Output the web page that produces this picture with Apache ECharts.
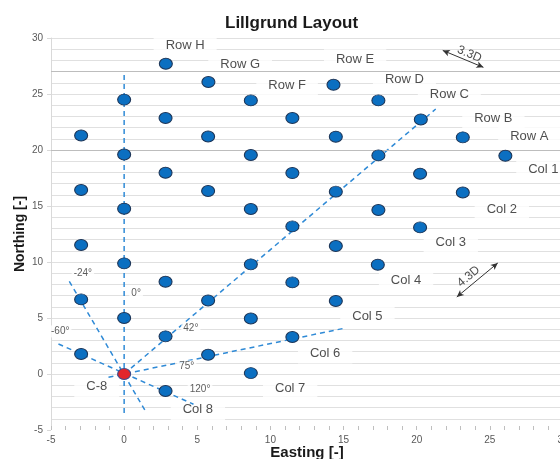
<!DOCTYPE html>
<html>
<head>
<meta charset="utf-8">
<script src="https://cdn.jsdelivr.net/npm/echarts@6/dist/echarts.min.js"></script>
<style>
html,body{margin:0;padding:0;background:#fff;}
#chart{width:560px;height:459px;}
</style>
</head>
<body>
<div id="chart"></div>
<script>
// ---- data ----
const xTicks = [-5, 30, 5];   // min, max, step
const yTicks = [-5, 30, 5];

const turbines = [
  [2.85, 27.7], [5.76, 26.07], [0, 24.5], [8.66, 24.43], [14.31, 25.83], [17.38, 24.43],
  [2.83, 22.86], [11.5, 22.86], [20.28, 22.73], [-2.94, 21.3], [5.74, 21.2], [14.47, 21.19],
  [23.15, 21.13], [0, 19.6], [8.66, 19.55], [17.38, 19.52], [26.06, 19.49], [2.83, 17.97],
  [11.5, 17.94], [20.23, 17.88], [-2.94, 16.43], [5.74, 16.34], [14.47, 16.28], [23.15, 16.21],
  [0, 14.76], [8.66, 14.73], [17.38, 14.64], [11.5, 13.18], [20.23, 13.09], [-2.94, 11.52],
  [14.47, 11.43], [0, 9.88], [8.66, 9.79], [17.34, 9.76], [2.83, 8.24], [11.5, 8.18],
  [-2.94, 6.66], [5.74, 6.57], [14.47, 6.52], [0, 5.0], [8.66, 4.96], [2.83, 3.36],
  [11.5, 3.3], [-2.94, 1.79], [5.74, 1.72], [8.66, 0.08], [2.83, -1.52]
];
const referenceTurbine = [[0, 0]];

const rowColNames = ['Row H','Row G','Row F','Row E','Row D','Row C','Row B','Row A',
  'Col 1','Col 2','Col 3','Col 4','Col 5','Col 6','Col 7','C-8','Col 8'];
const rowColPos = [
  [4.17, 29.31], [7.93, 27.68], [11.14, 25.74], [15.79, 28.06], [19.16, 26.3], [22.23, 24.96],
  [25.24, 22.86], [27.7, 21.19], [28.66, 18.24], [25.82, 14.73], [22.33, 11.79], [19.27, 8.33],
  [16.63, 5.14], [13.74, 1.88], [11.35, -1.31], [-1.87, -1.11], [5.04, -3.19]
];

const angleNames = ['-24°', '0°', '-60°', '42°', '75°', '120°'];
const anglePos = [[-2.82, 8.96], [0.82, 7.23], [-4.37, 3.8], [4.56, 4.07], [4.28, 0.68], [5.19, -1.4]];

const rays = [
  [[0, -3.48], [0, 26.9]],
  [[-3.75, 8.27], [1.5, -3.4]],
  [[-4.49, 2.68], [4.74, -2.7]],
  [[0, 0], [21.3, 23.66]],
  [[-1.07, -0.29], [14.99, 4.07]]
];

const spacingNames = ['3.3D', '4.3D'];
const spacingArrows = [
  [[21.78, 28.89], [24.56, 27.38]],
  [[22.74, 6.875], [25.54, 9.91]]
];
const spacingTextPos = [[23.6, 28.55], [23.55, 8.7]];
const spacingRotate = [-23, 40];

const darkGridValues = [20, 27];

// ---- chart ----
const FONT = '"Liberation Sans", Arial, sans-serif';
const chart = echarts.init(document.getElementById('chart'), null, {renderer: 'canvas'});

const series = [];

series.push({
  type: 'line', name: 'darkgrid', data: [], silent: true,
  markLine: {
    silent: true, symbol: 'none', label: {show: false},
    lineStyle: {color: '#bdbdbd', type: 'solid', width: 1},
    data: darkGridValues.map(v => ({yAxis: v}))
  }, z: 1
});

rays.forEach((r, i) => {
  series.push({
    type: 'line', name: 'ray' + i, data: r, symbol: 'none', silent: true,
    lineStyle: {color: '#2f8ad6', width: 1.5, type: [5, 4]}, z: 3
  });
});

series.push({
  type: 'scatter', name: 'labels', z: 2, symbolSize: 0,
  data: rowColNames.map((n, i) => ({name: n, value: rowColPos[i]})),
  label: {
    show: true, position: 'inside', formatter: '{b}', fontFamily: FONT, fontSize: 13,
    color: '#222', backgroundColor: '#fff', padding: [4, 12]
  }
});

series.push({
  type: 'scatter', name: 'angles', z: 4, symbolSize: 0,
  data: angleNames.map((n, i) => ({name: n, value: anglePos[i]})),
  label: {
    show: true, position: 'inside', formatter: '{b}', fontFamily: FONT, fontSize: 10,
    color: '#333', backgroundColor: '#fff', padding: [1, 2]
  }
});

series.push({
  type: 'line', name: 'arrows', data: [], silent: true, z: 4,
  markLine: {
    silent: true, symbol: ['arrow', 'arrow'], symbolSize: [5, 7],
    label: {show: false},
    lineStyle: {color: '#333', type: 'solid', width: 1},
    data: spacingArrows.map(a => [{coord: a[0]}, {coord: a[1]}])
  }
});

series.push({
  type: 'scatter', name: 'spacing', z: 4, symbolSize: 0,
  data: spacingNames.map((n, i) => ({
    name: n, value: spacingTextPos[i],
    label: {rotate: spacingRotate[i]}
  })),
  label: {
    show: true, position: 'inside', formatter: '{b}', fontFamily: FONT, fontSize: 12,
    color: '#222'
  }
});

series.push({
  type: 'scatter', name: 'turbines', z: 5, data: turbines,
  symbol: 'circle', symbolSize: [13, 11],
  itemStyle: {color: '#0b6fc1', borderColor: '#1d3557', borderWidth: 1, opacity: 1}
});

series.push({
  type: 'scatter', name: 'reference', z: 6, data: referenceTurbine,
  symbol: 'circle', symbolSize: [13, 11],
  itemStyle: {color: '#e3262b', borderColor: '#3a4d8c', borderWidth: 1, opacity: 1}
});

const option = {
  animation: false,
  backgroundColor: '#fff',
  title: {
    text: 'Lillgrund Layout', left: 220, top: 10,
    textStyle: {fontFamily: FONT, fontSize: 17, fontWeight: 'bold', color: '#1a1a1a'}
  },
  grid: {left: 51, top: 38, width: 512, height: 392, containLabel: false, outerBoundsMode: 'none'},
  xAxis: {
    type: 'value', min: xTicks[0], max: xTicks[1], interval: xTicks[2],
    name: 'Easting [-]', nameLocation: 'middle', nameGap: 15, nameMoveOverlap: false,
    nameTextStyle: {fontFamily: FONT, fontSize: 15, fontWeight: 'bold', color: '#1a1a1a'},
    axisLine: {show: true, onZero: false, lineStyle: {color: '#ffffff', width: 2}},
    axisTick: {show: true, inside: true, length: 4, lineStyle: {color: '#bfbfbf'}},
    minorTick: {show: true, splitNumber: 5, length: 4, lineStyle: {color: '#bfbfbf'}},
    axisLabel: {fontFamily: FONT, fontSize: 10, color: '#595959', margin: 5},
    splitLine: {show: false}
  },
  yAxis: {
    type: 'value', min: yTicks[0], max: yTicks[1], interval: yTicks[2],
    name: 'Northing [-]', nameLocation: 'middle', nameGap: 24, nameRotate: 90, nameMoveOverlap: false,
    nameTextStyle: {fontFamily: FONT, fontSize: 14, fontWeight: 'bold', color: '#1a1a1a'},
    axisLine: {show: true, onZero: false, lineStyle: {color: '#d9d9d9'}},
    axisTick: {show: true, length: 4, lineStyle: {color: '#d9d9d9'}},
    axisLabel: {fontFamily: FONT, fontSize: 10, color: '#595959', margin: 8},
    splitLine: {show: true, lineStyle: {color: '#e0e0e0', width: 1}},
    minorTick: {show: false, splitNumber: 5},
    minorSplitLine: {show: true, lineStyle: {color: '#e0e0e0', width: 1}}
  },
  series: series
};
chart.setOption(option);
</script>
</body>
</html>
